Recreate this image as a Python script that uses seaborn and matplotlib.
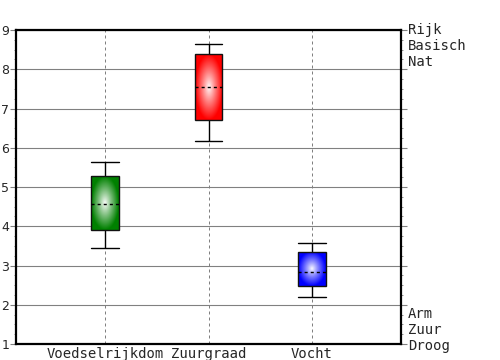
import numpy as np
import pandas as pd
import seaborn as sns
import matplotlib
matplotlib.use("Agg")
from matplotlib import pyplot as plt
from matplotlib.colors import to_rgb
from matplotlib.ticker import MultipleLocator
import matplotlib.transforms as mtransforms

# five-number summaries (whisker low, Q1, median, Q3, whisker high)
categories = ["Voedselrijkdom", "Zuurgraad", "Vocht"]
voedselrijkdom = [3.45, 3.90, 4.57, 5.27, 5.63]
zuurgraad = [6.17, 6.71, 7.54, 8.38, 8.64]
vocht = [2.20, 2.48, 2.84, 3.35, 3.57]
box_colors = ["#008000", "#ff0000", "#0000ff"]
top_labels = ["Rijk", "Basisch", "Nat"]
bottom_labels = ["Arm", "Zuur", "Droog"]

df = pd.DataFrame({
    "kenmerk": np.repeat(categories, 5),
    "waarde": voedselrijkdom + zuurgraad + vocht,
})

sns.set_style("white")
plt.rcParams["font.family"] = ["DejaVu Sans"]

fig = plt.figure(figsize=(5, 3.6), dpi=100)
ax = fig.add_axes([0.032, 0.0444, 0.770, 0.8722])

sns.boxplot(data=df, x="kenmerk", y="waarde", hue="kenmerk", palette=box_colors,
            width=0.27, linewidth=1, linecolor="black", whis=np.inf, legend=False,
            capwidths=0.27, ax=ax,
            medianprops=dict(linestyle=(0, (2.2, 2.2)), color="black", linewidth=1))

# radial white-to-colour fill inside each box
for patch, col in zip(ax.patches, box_colors):
    ext = patch.get_path().get_extents()
    u, v = np.meshgrid(np.linspace(-1, 1, 60), np.linspace(-1, 1, 120))
    t = np.clip(np.sqrt(u ** 2 + v ** 2), 0, 1) ** 0.9
    rgb = np.array(to_rgb(col))
    img = (1 - t[..., None]) * 1.0 + t[..., None] * rgb
    im = ax.imshow(img, extent=[ext.x0, ext.x1, ext.y0, ext.y1], aspect="auto",
                   interpolation="bilinear", zorder=2.5)
    im.set_clip_path(patch)
    patch.set_facecolor("none")
    patch.set_edgecolor("#111111")
    patch.set_zorder(3)

for line in ax.lines:
    if line.get_linestyle() != "-":
        line.set_zorder(4)

ax.set_xlim(-0.86, 2.86)
ax.set_ylim(1, 9)
ax.set_xlabel("")
ax.set_ylabel("")

ax.set_axisbelow(True)
ax.yaxis.grid(True, color="#808080", linewidth=0.8)
ax.xaxis.grid(True, color="#808080", linewidth=0.72, linestyle=(0, (3, 3)))

ax.yaxis.set_major_locator(MultipleLocator(1))
ax.yaxis.set_minor_locator(MultipleLocator(0.25))
ax.tick_params(axis="y", which="major", direction="out", length=4, width=0.8,
               color="#808080", left=True, right=True, labelsize=9, pad=1)
ax.tick_params(axis="y", which="minor", direction="out", length=1.5, width=0.6,
               color="#808080", left=True, right=True)
ax.tick_params(axis="x", length=0, pad=2)
for lab in ax.get_xticklabels():
    lab.set_family("DejaVu Sans Mono")
    lab.set_fontsize(10)

for s in ax.spines.values():
    s.set_visible(True)
    s.set_color("black")
    s.set_linewidth(1.6)

trans = mtransforms.blended_transform_factory(ax.transAxes, ax.transData)
ax.annotate("\n".join(top_labels), xy=(1, 9), xycoords=trans, xytext=(5, 5),
            textcoords="offset points", va="top", ha="left",
            family="DejaVu Sans Mono", fontsize=10)
ax.annotate("\n".join(bottom_labels), xy=(1, 1), xycoords=trans, xytext=(5, -6.5),
            textcoords="offset points", va="bottom", ha="left",
            family="DejaVu Sans Mono", fontsize=10)

fig.savefig("out.png", dpi=100)
